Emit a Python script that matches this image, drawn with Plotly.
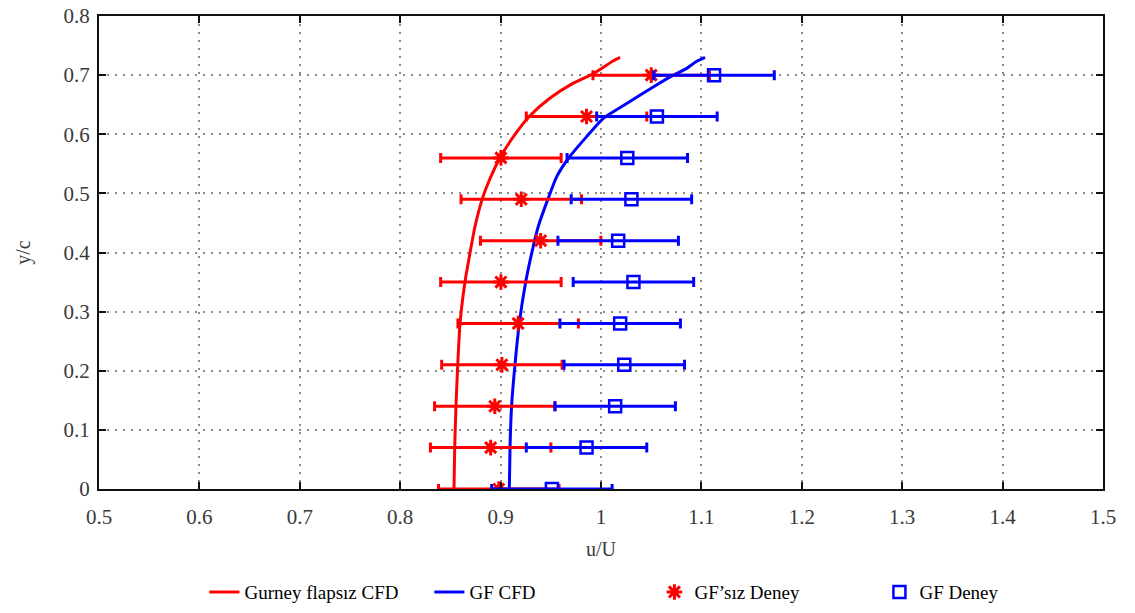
import plotly.graph_objects as go

# CFD profiles
cfd_no_gf_y = [0, 0.072, 0.142, 0.21, 0.28, 0.35, 0.399, 0.444, 0.492, 0.523, 0.559, 0.599,
               0.631, 0.661, 0.686, 0.703, 0.724, 0.730]
cfd_no_gf_x = [0.8536, 0.8543, 0.8556, 0.8573, 0.8596, 0.8645, 0.8695, 0.8745, 0.882, 0.889, 0.899, 0.914,
               0.929, 0.949, 0.972, 0.993, 1.012, 1.019]

cfd_gf_y = [0, 0.072, 0.142, 0.21, 0.28, 0.35, 0.399, 0.444, 0.492, 0.528, 0.559, 0.596,
            0.627, 0.652, 0.680, 0.700, 0.711, 0.723, 0.730]
cfd_gf_x = [0.9087, 0.9094, 0.911, 0.9143, 0.9186, 0.925, 0.931, 0.9375, 0.9475, 0.9558, 0.9674, 0.9857,
            1.0023, 1.0256, 1.052, 1.072, 1.085, 1.095, 1.1036]

# Experiments
exp_y = [0, 0.07, 0.14, 0.21, 0.28, 0.35, 0.42, 0.49, 0.56, 0.63, 0.70]
exp_no_gf_x = [0.8982, 0.8901, 0.8942, 0.9013, 0.9175, 0.9003, 0.9399, 0.9206, 0.9003, 0.9856, 1.0500]
exp_no_gf_err = [0.060, 0.060, 0.060, 0.060, 0.060, 0.060, 0.060, 0.060, 0.060, 0.060, 0.058]
exp_gf_x = [0.9511, 0.9856, 1.0141, 1.0232, 1.0191, 1.0323, 1.0171, 1.0303, 1.0262, 1.0557, 1.1126]
exp_gf_err = [0.060, 0.060, 0.060, 0.060, 0.060, 0.060, 0.060, 0.060, 0.060, 0.060, 0.060]

x_ticks = [0.5, 0.6, 0.7, 0.8, 0.9, 1.0, 1.1, 1.2, 1.3, 1.4, 1.5]
x_tick_labels = ["0.5", "0.6", "0.7", "0.8", "0.9", "1", "1.1", "1.2", "1.3", "1.4", "1.5"]
y_ticks = [0, 0.1, 0.2, 0.3, 0.4, 0.5, 0.6, 0.7, 0.8]
y_tick_labels = ["0", "0.1", "0.2", "0.3", "0.4", "0.5", "0.6", "0.7", "0.8"]

RED = "#ff0000"
BLUE = "#0000ff"
FONT = "Liberation Serif, Times New Roman, serif"
TICK_COLOR = "#3a3a3a"

fig = go.Figure()
fig.add_trace(go.Scatter(x=cfd_no_gf_x, y=cfd_no_gf_y, mode="lines", name="Gurney flapsız CFD",
                         line=dict(color=RED, width=3, shape="spline", smoothing=0.6)))
fig.add_trace(go.Scatter(x=cfd_gf_x, y=cfd_gf_y, mode="lines", name="GF CFD",
                         line=dict(color=BLUE, width=3, shape="spline", smoothing=0.6)))
fig.add_trace(go.Scatter(x=exp_no_gf_x, y=exp_y, mode="markers", name="GF’sız Deney",
                         marker=dict(symbol="asterisk-open", size=13, color=RED, line=dict(color=RED, width=3)),
                         error_x=dict(type="data", array=exp_no_gf_err, color=RED, thickness=3, width=5)))
fig.add_trace(go.Scatter(x=exp_gf_x, y=exp_y, mode="markers", name="GF Deney",
                         marker=dict(symbol="square-open", size=12, color=BLUE, line=dict(color=BLUE, width=2.5)),
                         error_x=dict(type="data", array=exp_gf_err, color=BLUE, thickness=3, width=5)))

axis_common = dict(showline=True, linecolor="#111111", linewidth=2, mirror="ticks",
                   ticks="inside", ticklen=7, tickwidth=2, tickcolor="#111111",
                   showgrid=True, gridcolor="#8a8a8a", griddash="2px,6px", gridwidth=1.5,
                   zeroline=False, tickfont=dict(family=FONT, size=21, color=TICK_COLOR))

fig.update_xaxes(range=[0.5, 1.5], tickvals=x_ticks, ticktext=x_tick_labels, ticklabelstandoff=8,
                 title=dict(text="u/U", font=dict(family=FONT, size=20, color=TICK_COLOR), standoff=14),
                 **axis_common)
fig.update_yaxes(range=[0, 0.8], tickvals=y_ticks, ticktext=y_tick_labels, ticklabelstandoff=3,
                 title=dict(text="y/c", font=dict(family=FONT, size=20, color=TICK_COLOR), standoff=28),
                 **axis_common)

fig.update_layout(
    width=1135, height=613,
    margin=dict(l=99, r=32, t=16, b=124, autoexpand=False),
    plot_bgcolor="white", paper_bgcolor="white",
    font=dict(family=FONT, color="black"),
    legend=dict(orientation="h", x=0.105, xanchor="left", y=-0.218, yanchor="middle",
                font=dict(family=FONT, size=19, color="black"), entrywidth=180, entrywidthmode="pixels",
                bgcolor="rgba(0,0,0,0)"),
)

fig.write_html("out.html")
